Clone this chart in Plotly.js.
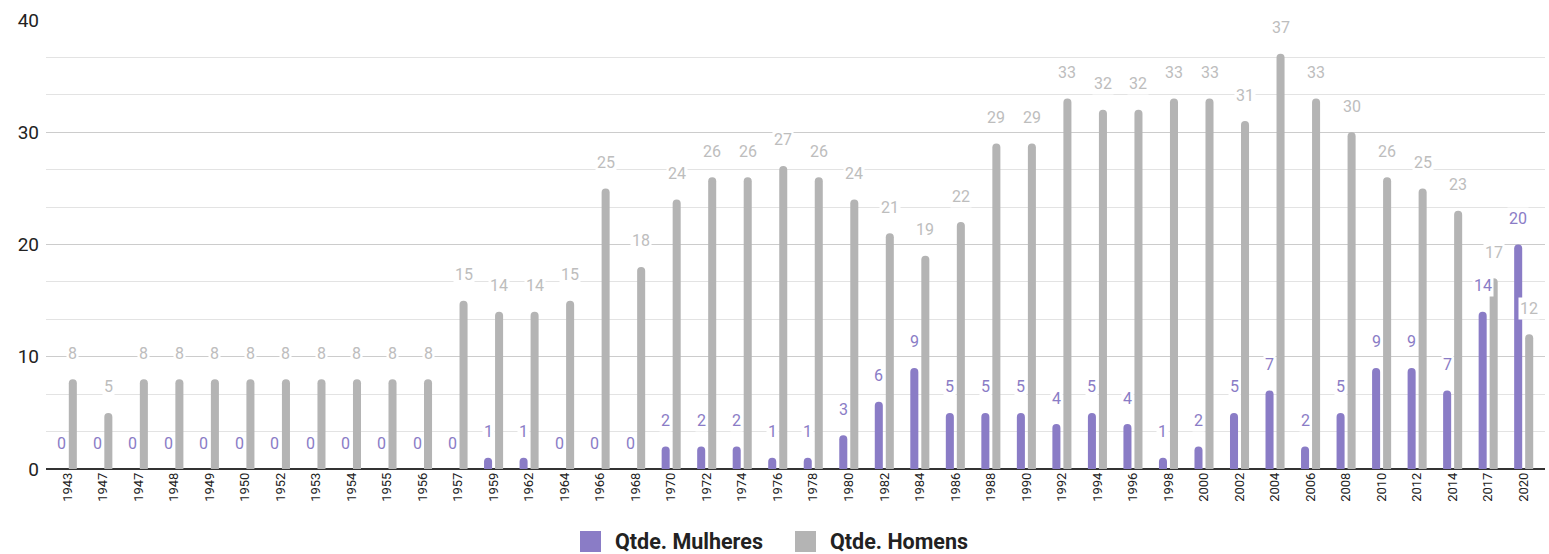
<!DOCTYPE html>
<html>
<head>
<meta charset="utf-8">
<script src="https://cdn.plot.ly/plotly-3.0.1.min.js"></script>
<style>html,body{margin:0;padding:0;background:#fff;}#chart{width:1549px;height:554px;}</style>
</head>
<body>
<div id="chart"></div>
<script>
var years = ['1943','1947','1947','1948','1949','1950','1952','1953','1954','1955','1956','1957','1959','1962','1964','1966','1968','1970','1972','1974','1976','1978','1980','1982','1984','1986','1988','1990','1992','1994','1996','1998','2000','2002','2004','2006','2008','2010','2012','2014','2017','2020'];
var mulheres = [0,0,0,0,0,0,0,0,0,0,0,0,1,1,0,0,0,2,2,2,1,1,3,6,9,5,5,5,4,5,4,1,2,5,7,2,5,9,9,7,14,20];
var homens = [8,5,8,8,8,8,8,8,8,8,8,15,14,14,15,25,18,24,26,26,27,26,24,21,19,22,29,29,33,32,32,33,33,31,37,33,30,26,25,23,17,12];
var seriesNames = ['Qtde. Mulheres', 'Qtde. Homens'];

var idx = years.map(function(_, i){ return i; });
var colW = '#8a7cc6', colM = '#b4b4b4';
var labW = '#8a7cc6', labM = '#bdbdbd';

var traces = [
  {type:'bar', name: seriesNames[0], x: idx, y: mulheres, marker:{color: colW}, hoverinfo:'y', showlegend:false},
  {type:'bar', name: seriesNames[1], x: idx, y: homens, marker:{color: colM}, hoverinfo:'y', showlegend:false}
];

var annotations = [];
idx.forEach(function(i){
  annotations.push({x: i, y: mulheres[i], xref:'x', yref:'y', text: String(mulheres[i]), showarrow:false,
    xshift:-5.5, yshift:26, yanchor:'middle', bgcolor:'#ffffff', borderpad:1,
    font:{family:'Roboto, sans-serif', size:16, color: labW}});
  annotations.push({x: i, y: homens[i], xref:'x', yref:'y', text: String(homens[i]), showarrow:false,
    xshift:5.5, yshift:26, yanchor:'middle', bgcolor:'#ffffff', borderpad:1,
    font:{family:'Roboto, sans-serif', size:16, color: labM}});
});

// custom legend (pixel positions converted to paper coords)
var W = 1549, H = 554, mL = 46, mR = 4, mT = 20, mB = 85;
var pw = W - mL - mR, ph = H - mT - mB;
function px(x){ return (x - mL) / pw; }
function py(y){ return (H - mB - y) / ph; }
var legendItems = [{sq:580, tx:613, color: colW, name: seriesNames[0]}, {sq:795, tx:828, color: colM, name: seriesNames[1]}];
var shapes = [];
legendItems.forEach(function(it){
  shapes.push({type:'rect', xref:'paper', yref:'paper', x0: px(it.sq), x1: px(it.sq+21), y0: py(552), y1: py(531),
    fillcolor: it.color, line:{width:0}});
  annotations.push({xref:'paper', yref:'paper', x: px(it.tx), y: py(541), xanchor:'left', yanchor:'middle',
    text:'<b>'+it.name+'</b>', showarrow:false, font:{family:'Roboto, sans-serif', size:21.5, color:'#222'}});
});

var layout = {
  width:W, height:H,
  margin:{l:mL, r:mR, t:mT, b:mB},
  paper_bgcolor:'#fff', plot_bgcolor:'#fff',
  barmode:'group', bargap:0.38, bargroupgap:0.27, barcornerradius:4,
  font:{family:'Roboto, sans-serif', color:'#222'},
  xaxis:{
    range:[-0.6, 41.6], tickmode:'array', tickvals: idx, ticktext: years,
    tickangle:-90, tickfont:{size:13, color:'#222'}, showgrid:false, zeroline:false,
    showline:false, ticks:'', fixedrange:true, automargin:false
  },
  yaxis:{
    range:[0,40], tickmode:'linear', tick0:0, dtick:10, automargin:false,
    tickfont:{size:19, color:'#222'}, showgrid:true, gridcolor:'#cccccc', gridwidth:1,
    minor:{dtick:10/3, showgrid:true, gridcolor:'#e3e3e3', gridwidth:1, ticks:''},
    zeroline:true, zerolinecolor:'#333', zerolinewidth:2, ticks:'', ticklabelstandoff:6
  },
  showlegend:false,
  shapes: shapes,
  annotations: annotations
};

Plotly.newPlot('chart', traces, layout, {displayModeBar:false, staticPlot:true});
</script>
</body>
</html>
